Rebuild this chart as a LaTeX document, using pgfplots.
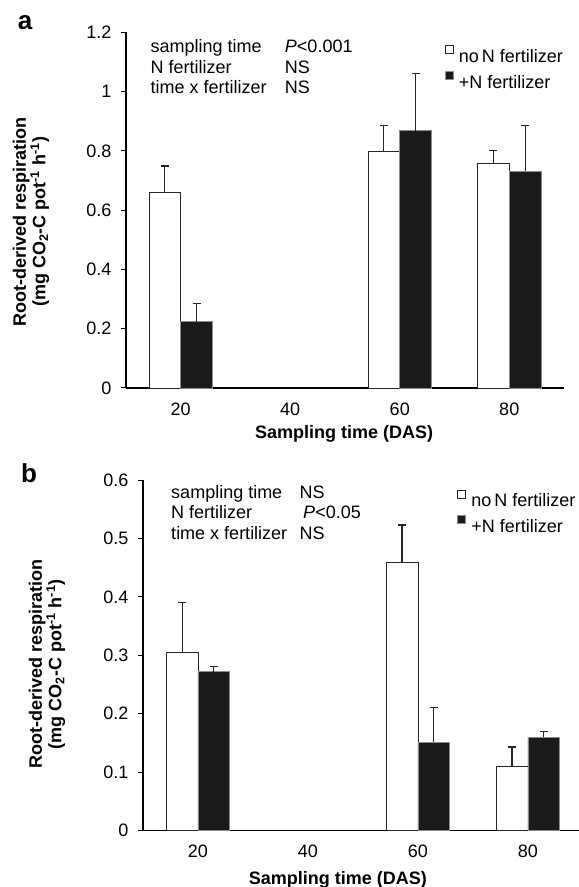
\documentclass[border=0pt]{standalone}
\usepackage{pgfplots}
\pgfplotsset{compat=1.18}
\usepackage{fontspec}
\setmainfont{Liberation Sans}
\definecolor{barblack}{HTML}{1A1A1A}
\definecolor{edgegray}{HTML}{8C8C8C}
\newcommand{\F}{\fontsize{18bp}{20.8bp}\selectfont}
\newcommand{\FB}{\bfseries\fontsize{18bp}{19.5bp}\selectfont}

\pgfplotsset{
  mybars/.style={
    scale only axis,
    ybar, bar width=0.29,
    xmin=-0.5, xmax=3.5, ymin=0,
    xtick={0,1,2,3}, xticklabels={20,40,60,80},
    axis lines*=left,
    axis line style={line width=1.3bp, black},
    tick label style={font=\F},
    /pgf/number format/assume math mode=true,
    tick align=outside,
    major tick length=5bp,
    x tick style={draw=none},
    y tick style={line width=1bp, black},
    yticklabel style={xshift=-6bp},
    xticklabel style={yshift=-6bp},
    xlabel style={font=\FB, anchor=center},
    ylabel style={font=\FB, align=center, anchor=center},
    clip=false,
    legend cell align=left,
    legend image code/.code={\draw[##1, line width=0.8bp] (0bp,3bp) rectangle (8bp,11bp);},
    legend style={draw=none, fill=none, font=\F, anchor=north west, inner sep=0pt,
      row sep=7bp, nodes={inner sep=0pt}, column sep=5bp},
  },
  whitebar/.style={fill=white, draw=black!85, line width=0.9bp, bar shift=-0.145,
    error bars/.cd, y dir=plus, y explicit,
    error bar style={line width=1.1bp, black!85},
    error mark options={rotate=90, mark size=4bp, line width=1.1bp, black!85}},
  blackbar/.style={fill=barblack, draw=edgegray, line width=0.8bp, bar shift=0.145,
    error bars/.cd, y dir=plus, y explicit,
    error bar style={line width=1.1bp, black!85},
    error mark options={rotate=90, mark size=4bp, line width=1.1bp, black!85}},
}

\begin{document}
\begin{tikzpicture}
\useasboundingbox (0,0) rectangle (579bp,887bp);

% ---------- panel a ----------
\begin{axis}[mybars,
  at={(126bp,499bp)}, anchor=south west,
  width=438bp, height=355.7bp,
  ymax=1.2, ytick={0,0.2,0.4,0.6,0.8,1,1.2},
  xlabel={Sampling time (DAS)},
  xlabel style={at={(axis description cs:0.498,-0.129)}},
  ylabel={Root-derived respiration\\(mg CO\textsubscript{2}-C pot\textsuperscript{-1} h\textsuperscript{-1})},
  ylabel style={at={(axis description cs:-0.217,0.467)}},
  legend style={at={(axis cs:2.411,1.157)}},
]
\addplot[whitebar] coordinates {(0,0.658) +- (0,0.091) (2,0.797) +- (0,0.088) (3,0.759) +- (0,0.041)};
\addplot[blackbar] coordinates {(0,0.223) +- (0,0.061) (2,0.868) +- (0,0.192) (3,0.732) +- (0,0.153)};
\legend{no\,N fertilizer, +N fertilizer}
\node[anchor=base west, inner sep=0pt, font=\F] at (axis cs:-0.277,1.132) {sampling time};
\node[anchor=base west, inner sep=0pt, font=\F] at (axis cs:-0.277,1.061) {N fertilizer};
\node[anchor=base west, inner sep=0pt, font=\F] at (axis cs:-0.277,0.992) {time x fertilizer};
\node[anchor=base west, inner sep=0pt, font=\F] at (axis cs:0.950,1.132) {\textit{P}<0.001};
\node[anchor=base west, inner sep=0pt, font=\F] at (axis cs:0.950,1.061) {NS};
\node[anchor=base west, inner sep=0pt, font=\F] at (axis cs:0.950,0.992) {NS};
\end{axis}

% ---------- panel b ----------
\begin{axis}[mybars,
  at={(143bp,56.5bp)}, anchor=south west,
  width=440bp, height=350.5bp,
  ymax=0.6, ytick={0,0.1,0.2,0.3,0.4,0.5,0.6},
  xlabel={Sampling time (DAS)},
  xlabel style={at={(axis description cs:0.443,-0.141)}},
  ylabel={Root-derived respiration\\(mg CO\textsubscript{2}-C pot\textsuperscript{-1} h\textsuperscript{-1})},
  ylabel style={at={(axis description cs:-0.218,0.474)}},
  legend style={at={(axis cs:2.357,0.584)}},
]
\addplot[whitebar] coordinates {(0,0.304) +- (0,0.087) (2,0.459) +- (0,0.064) (3,0.109) +- (0,0.034)};
\addplot[blackbar] coordinates {(0,0.272) +- (0,0.008) (2,0.151) +- (0,0.059) (3,0.160) +- (0,0.010)};
\legend{no\,N fertilizer, +N fertilizer}
\node[anchor=base west, inner sep=0pt, font=\F] at (axis cs:-0.245,0.569) {sampling time};
\node[anchor=base west, inner sep=0pt, font=\F] at (axis cs:-0.245,0.534) {N fertilizer};
\node[anchor=base west, inner sep=0pt, font=\F] at (axis cs:-0.245,0.498) {time x fertilizer};
\node[anchor=base west, inner sep=0pt, font=\F] at (axis cs:0.921,0.569) {NS};
\node[anchor=base west, inner sep=0pt, font=\F] at (axis cs:0.955,0.534) {\textit{P}<0.05};
\node[anchor=base west, inner sep=0pt, font=\F] at (axis cs:0.921,0.498) {NS};
\end{axis}

\node[font=\bfseries\fontsize{26bp}{26bp}\selectfont] at (25bp,864bp) {a};
\node[font=\bfseries\fontsize{26bp}{26bp}\selectfont] at (29bp,414bp) {b};
\end{tikzpicture}
\end{document}
